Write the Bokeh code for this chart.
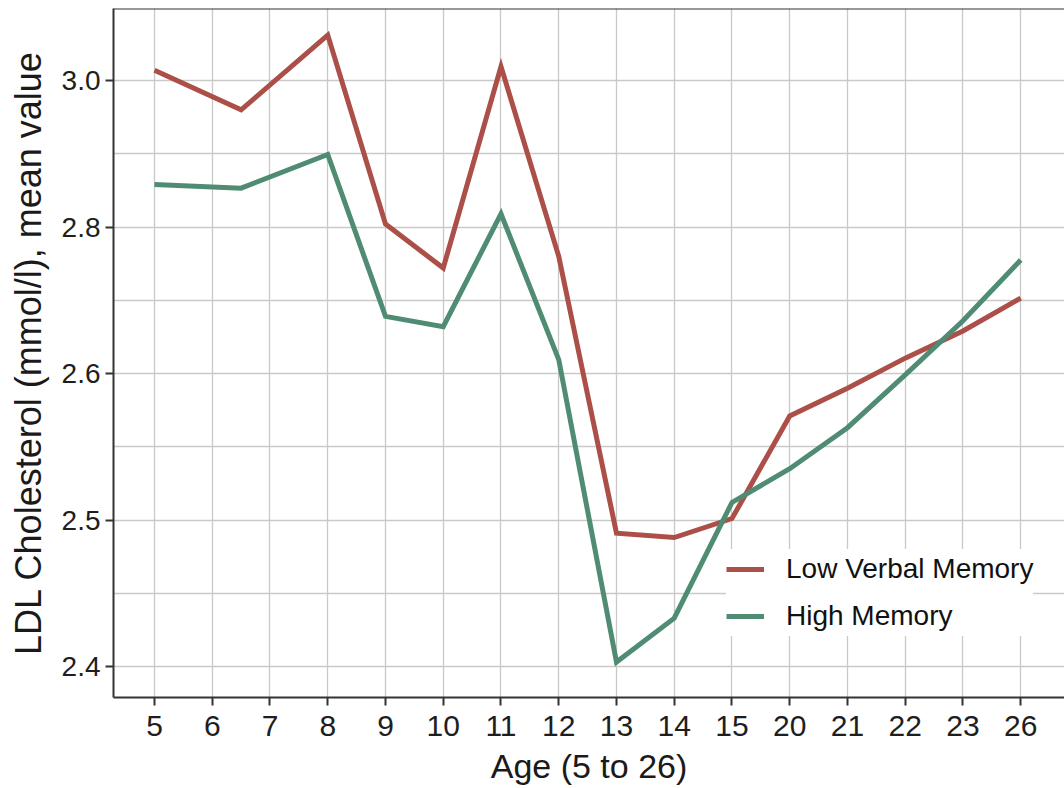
import numpy as np
from bokeh.plotting import figure
from bokeh.models import FixedTicker, Range1d, Span, ColumnDataSource
from bokeh.embed import file_html
from bokeh.resources import INLINE

# ---- data ----
tick_ages = [5, 6, 7, 8, 9, 10, 11, 12, 13, 14, 15, 20, 21, 22, 23, 26]
y_tick_values = [2.4, 2.5, 2.6, 2.8, 3.0]
y_tick_labels = ["2.4", "2.5", "2.6", "2.8", "3.0"]

ages = [5, 6.5, 8, 9, 10, 11, 12, 13, 14, 15, 20, 21, 22, 23, 26]
low_verbal = [3.014, 2.960, 3.062, 2.804, 2.744, 3.019, 2.760, 2.491, 2.488,
              2.501, 2.571, 2.590, 2.621, 2.658, 2.703]
high_memory = [2.858, 2.853, 2.899, 2.678, 2.664, 2.818, 2.619, 2.403, 2.433,
               2.512, 2.535, 2.563, 2.599, 2.672, 2.755]

series_names = ["Low Verbal Memory", "High Memory"]
series_colors = ["#ab4f48", "#4f8c73"]

# ---- axis mapping (equally spaced tick positions, as in the original) ----
x_pos_ticks = list(range(len(tick_ages)))
y_pos_ticks = list(range(len(y_tick_values)))
y_ext_vals = y_tick_values + [3.2]
y_ext_pos = y_pos_ticks + [len(y_tick_values)]


def xmap(a):
    return np.interp(a, tick_ages, x_pos_ticks)


def ymap(v):
    return np.interp(v, y_ext_vals, y_ext_pos)


FONT = "Liberation Sans"

p = figure(width=1064, height=788, output_backend="svg", toolbar_location=None,
           x_range=Range1d(-0.71, 15.758), y_range=Range1d(-0.2116, 4.4915),
           min_border_left=113, min_border_right=0, min_border_top=8,
           min_border_bottom=91)
p.outline_line_color = None
p.background_fill_color = "white"
p.border_fill_color = "white"

for name, vals, col in zip(series_names, [low_verbal, high_memory], series_colors):
    src = ColumnDataSource(dict(x=xmap(ages), y=ymap(vals)))
    p.line("x", "y", source=src, line_color=col, line_width=5,
           line_join="miter", legend_label=name)

# top border
p.add_layout(Span(location=p.y_range.end, dimension="width",
                  line_color="#333333", line_width=2))

# axes
p.xaxis.ticker = FixedTicker(ticks=x_pos_ticks)
p.xaxis.major_label_overrides = {i: str(a) for i, a in zip(x_pos_ticks, tick_ages)}
p.yaxis.ticker = FixedTicker(ticks=y_pos_ticks, minor_ticks=[0.5, 1.5, 2.5, 3.5])
p.yaxis.major_label_overrides = {i: s for i, s in zip(y_pos_ticks, y_tick_labels)}

for ax in (p.xaxis[0], p.yaxis[0]):
    ax.axis_line_color = "#333333"
    ax.axis_line_width = 2
    ax.major_tick_line_color = "#333333"
    ax.major_tick_line_width = 2
    ax.major_tick_out = 8
    ax.major_tick_in = 0
    ax.minor_tick_line_color = None
    ax.major_label_text_font = FONT
    ax.major_label_text_color = "#1e1e1e"
    ax.axis_label_text_font = FONT
    ax.axis_label_text_font_style = "normal"
    ax.axis_label_text_color = "#1a1a1a"

p.xaxis.major_label_text_font_size = "30px"
p.yaxis.major_label_text_font_size = "28px"
p.xaxis.axis_label = "Age (5 to 26)"
p.xaxis.axis_label_text_font_size = "34px"
p.xaxis.major_label_standoff = 10
p.xaxis.axis_label_standoff = 8
p.yaxis.axis_label = "LDL Cholesterol (mmol/l), mean value"
p.yaxis.axis_label_text_font_size = "36px"
p.yaxis.major_label_standoff = 5
p.yaxis.axis_label_standoff = 10

# grid
p.xgrid.grid_line_color = "#c9c9c9"
p.xgrid.grid_line_width = 1.3
p.ygrid.grid_line_color = "#c9c9c9"
p.ygrid.grid_line_width = 1.3
p.ygrid.minor_grid_line_color = "#c9c9c9"
p.ygrid.minor_grid_line_width = 1.3

# legend
lg = p.legend[0]
lg.location = (613, 61)
lg.background_fill_color = "white"
lg.background_fill_alpha = 1.0
lg.border_line_color = None
lg.label_text_font = FONT
lg.label_text_font_size = "28px"
lg.label_text_color = "#111111"
lg.glyph_width = 38
lg.glyph_height = 40
lg.label_height = 40
lg.label_standoff = 22
lg.padding = 20
lg.spacing = 7
lg.margin = 0

open("out.html", "w").write(file_html(p, INLINE))
